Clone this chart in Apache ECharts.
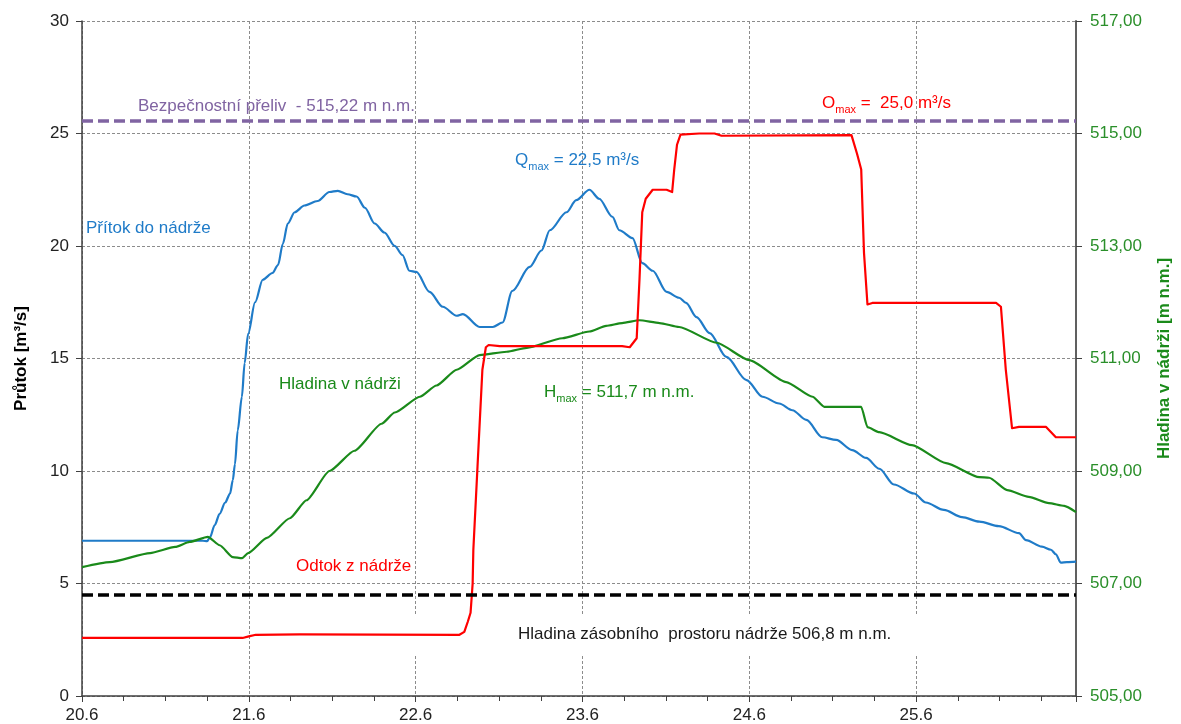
<!DOCTYPE html>
<html>
<head>
<meta charset="utf-8">
<title>Průtok a hladina v nádrži</title>
<script src="https://cdn.jsdelivr.net/npm/echarts@6/dist/echarts.min.js"></script>
<style>
  html, body { margin: 0; padding: 0; background: #fff; }
  #chart { width: 1181px; height: 724px; }
</style>
</head>
<body>
<div id="chart"></div>
<script>
// time axis = hours since 20.6. 0:00
var dayLabels = ['20.6', '21.6', '22.6', '23.6', '24.6', '25.6', '26.6']

// Přítok do nádrže [m3/s]
var inflowHours = [0, 9.8, 17.4, 18.0, 18.4, 19.1, 19.8, 20.6, 21.3, 21.7, 22.0, 22.4, 23.0, 23.4, 23.9, 24.9, 26.0, 27.4, 28.2, 28.9,
  29.6, 30.6, 32.0, 33.9, 35.6, 36.8, 38.2, 39.5, 40.7, 42.1, 43.5, 45.0, 46.1, 47.1, 48.1, 50.0, 51.9, 53.9, 54.8, 57.2,
  59.1, 60.5, 61.9, 64.4, 66.1, 67.3, 69.7, 71.1, 73.0, 74.4, 76.3, 77.3, 79.2, 80.6, 82.1, 84.1, 85.9, 86.9, 88.4, 90.3,
  92.7, 95.6, 97.9, 100.3, 102.2, 104.2, 106.5, 108.5, 110.8, 112.8, 114.7, 116.8, 119.7, 121.4, 124.0, 126.6, 129.1, 131.9, 134.8, 135.8,
  138.1, 139.4, 140.1, 140.8, 141.7, 143.0]
var inflowValues = [6.9, 6.9, 6.9, 6.88, 7.05, 7.6, 8.1, 8.6, 9.0, 9.6, 10.3, 11.8, 13.3, 14.8, 16.1, 17.5, 18.5, 18.8, 19.15, 20.1,
  21.0, 21.5, 21.8, 22.0, 22.4, 22.45, 22.3, 22.2, 21.7, 21.0, 20.6, 20.0, 19.6, 18.9, 18.85, 17.96, 17.3, 16.9, 16.97, 16.4,
  16.4, 16.6, 18.0, 19.07, 19.8, 20.7, 21.5, 22.04, 22.5, 22.1, 21.3, 20.7, 20.35, 19.24, 18.9, 17.96, 17.7, 17.47, 16.84, 16.13,
  15.07, 14.04, 13.3, 13.0, 12.7, 12.27, 11.5, 11.38, 10.93, 10.58, 10.1, 9.4, 9.0, 8.6, 8.27, 7.95, 7.75, 7.55, 7.24, 6.93,
  6.64, 6.5, 6.3, 5.93, 5.95, 5.97]

// Odtok z nádrže [m3/s]
var outflowHours = [0, 17.0, 23.1, 24.0, 25.0, 31.3, 54.3, 55.0, 55.5, 55.9, 56.2, 56.3, 56.9, 57.6, 58.1, 58.5, 60.1, 77.7, 78.8, 79.8,
  80.2, 80.6, 81.1, 82.1, 84.1, 84.9, 85.2, 85.6, 86.1, 88.8, 91.0, 92.0, 110.7, 111.5, 112.1, 112.5, 113.0, 113.7, 131.5, 132.2,
  132.9, 133.8, 134.8, 138.7, 140.1, 143.0]
var outflowValues = [2.58, 2.58, 2.58, 2.65, 2.72, 2.74, 2.72, 2.85, 3.3, 3.7, 5.0, 6.5, 10.2, 14.5, 15.5, 15.6, 15.55, 15.55, 15.5, 15.9,
  18.5, 21.5, 22.1, 22.5, 22.5, 22.4, 23.4, 24.5, 24.95, 25.0, 25.0, 24.9, 24.93, 24.1, 23.4, 19.7, 17.4, 17.47, 17.47, 17.3,
  14.5, 11.9, 11.96, 11.96, 11.5, 11.5]

// Hladina v nádrži [m n.m.]
var levelHours = [0, 4.0, 9.8, 13.4, 15.5, 18.1, 19.8, 21.7, 23.0, 23.9, 26.6, 29.9, 32.3, 35.6, 39.2, 43.1, 45.0, 48.6, 51.0, 53.9,
  57.2, 61.1, 64.0, 69.1, 73.0, 75.4, 77.7, 80.2, 83.1, 85.9, 91.3, 96.0, 101.3, 105.1, 106.8, 112.1, 113.0, 114.7, 119.4, 124.3,
  129.1, 130.5, 133.1, 136.2, 139.1, 141.3, 143.0]
var levelValues = [507.29, 507.38, 507.54, 507.65, 507.74, 507.83, 507.68, 507.47, 507.45, 507.54, 507.81, 508.16, 508.48, 509.0, 509.36, 509.84, 510.04, 510.32, 510.52, 510.8,
  511.06, 511.12, 511.19, 511.36, 511.48, 511.58, 511.63, 511.68, 511.63, 511.56, 511.28, 510.97, 510.58, 510.32, 510.14, 510.14, 509.78, 509.69, 509.46, 509.14,
  508.89, 508.88, 508.66, 508.54, 508.43, 508.38, 508.27]

var spillwayLevel = 515.22
var storageLevel = 506.8

function pairs(hours, values) {
  return hours.map(function(h, i) { return [h, values[i]] })
}

var font = 'Liberation Sans, Arial, sans-serif'
var blue = '#1f7bc8'
var red = '#ff0000'
var green = '#1a8a1a'
var purple = '#8064a2'

function note(x, y, text, color, rich) {
  var st = { text: text, x: x, y: y, fill: color, font: '17px ' + font, verticalAlign: 'middle' }
  if (rich) {
    st.rich = {
      n: { fill: color, fontSize: 17, fontFamily: font, lineHeight: 24 },
      s: { fill: color, fontSize: 11, fontFamily: font, verticalAlign: 'bottom', lineHeight: 16 }
    }
  }
  return { type: 'text', z: 100, style: st }
}

var chart = echarts.init(document.getElementById('chart'))
chart.setOption({
  animation: false,
  backgroundColor: '#fff',
  grid: { left: 82, right: 104, top: 21, bottom: 28 },
  xAxis: {
    type: 'value',
    min: 0,
    max: 143,
    interval: 24,
    axisLine: { lineStyle: { color: '#404040', width: 1.5 } },
    axisTick: { length: 6, lineStyle: { color: '#404040' } },
    minorTick: { show: true, splitNumber: 4, length: 5, lineStyle: { color: '#404040' } },
    axisLabel: {
      margin: 11, fontSize: 17, fontFamily: font, color: '#222',
      showMaxLabel: false,
      formatter: function(v) { return v % 24 === 0 ? dayLabels[v / 24] : '' }
    },
    splitLine: { show: true, lineStyle: { color: '#8c8c8c', type: [3, 2], width: 1 } }
  },
  yAxis: [{
    type: 'value',
    min: 0,
    max: 30,
    interval: 5,
    name: 'Průtok [m³/s]',
    nameLocation: 'middle',
    nameRotate: 90,
    nameGap: 52,
    nameTextStyle: { fontSize: 17, fontWeight: 'bold', fontFamily: font, color: '#000' },
    axisLine: { show: true, lineStyle: { color: '#404040', width: 1.5 } },
    axisTick: { show: true, length: 6, lineStyle: { color: '#404040' } },
    axisLabel: { margin: 13, fontSize: 17, fontFamily: font, color: '#222' },
    splitLine: { show: true, lineStyle: { color: '#8c8c8c', type: [3, 2], width: 1 } }
  }, {
    type: 'value',
    min: 505,
    max: 517,
    interval: 2,
    position: 'right',
    name: 'Hladina v nádrži [m n.m.]',
    nameLocation: 'middle',
    nameRotate: 90,
    nameGap: 80,
    nameTextStyle: { fontSize: 17, fontWeight: 'bold', fontFamily: font, color: green },
    axisLine: { show: true, lineStyle: { color: '#606060', width: 2 } },
    axisTick: { show: true, length: 6, lineStyle: { color: '#404040' } },
    axisLabel: {
      margin: 14, fontSize: 17, fontFamily: font, color: '#2a8f2a',
      formatter: function(v) { return v.toFixed(2).replace('.', ',') }
    },
    splitLine: { show: false }
  }],
  series: [{
    name: 'Přítok do nádrže',
    type: 'line',
    data: pairs(inflowHours, inflowValues),
    showSymbol: false,
    smooth: 0.3,
    smoothMonotone: 'x',
    lineStyle: { color: blue, width: 2.2 },
    z: 3
  }, {
    name: 'Odtok z nádrže',
    type: 'line',
    data: pairs(outflowHours, outflowValues),
    showSymbol: false,
    lineStyle: { color: red, width: 2.2, join: 'round' },
    z: 4
  }, {
    name: 'Hladina v nádrži',
    type: 'line',
    yAxisIndex: 1,
    data: pairs(levelHours, levelValues),
    showSymbol: false,
    smooth: 0.2,
    smoothMonotone: 'x',
    lineStyle: { color: green, width: 2.2 },
    z: 3,
    markLine: {
      silent: true,
      symbol: 'none',
      label: { show: false },
      data: [
        { yAxis: spillwayLevel, lineStyle: { color: purple, type: [11, 5], width: 3.5 } },
        { yAxis: storageLevel, lineStyle: { color: '#000', type: [11, 5], width: 3.5 } }
      ]
    }
  }],
  graphic: [
    { type: 'rect', z: 1, silent: true, shape: { x: 405, y: 614, width: 525, height: 41 }, style: { fill: '#fff' } },
    note(138, 106, 'Bezpečnostní přeliv  - 515,22 m n.m.', purple),
    note(822, 103, '{n|O}{s|max}{n| =  25,0 m³/s}', red, true),
    note(515, 160, '{n|Q}{s|max}{n| = 22,5 m³/s}', blue, true),
    note(86, 228, 'Přítok do nádrže', blue),
    note(279, 384, 'Hladina v nádrži', green),
    note(544, 392, '{n|H}{s|max}{n| = 511,7 m n.m.}', green, true),
    note(296, 566, 'Odtok z nádrže', red),
    note(518, 634, 'Hladina zásobního  prostoru nádrže 506,8 m n.m.', '#1a1a1a')
  ]
})
</script>
</body>
</html>
